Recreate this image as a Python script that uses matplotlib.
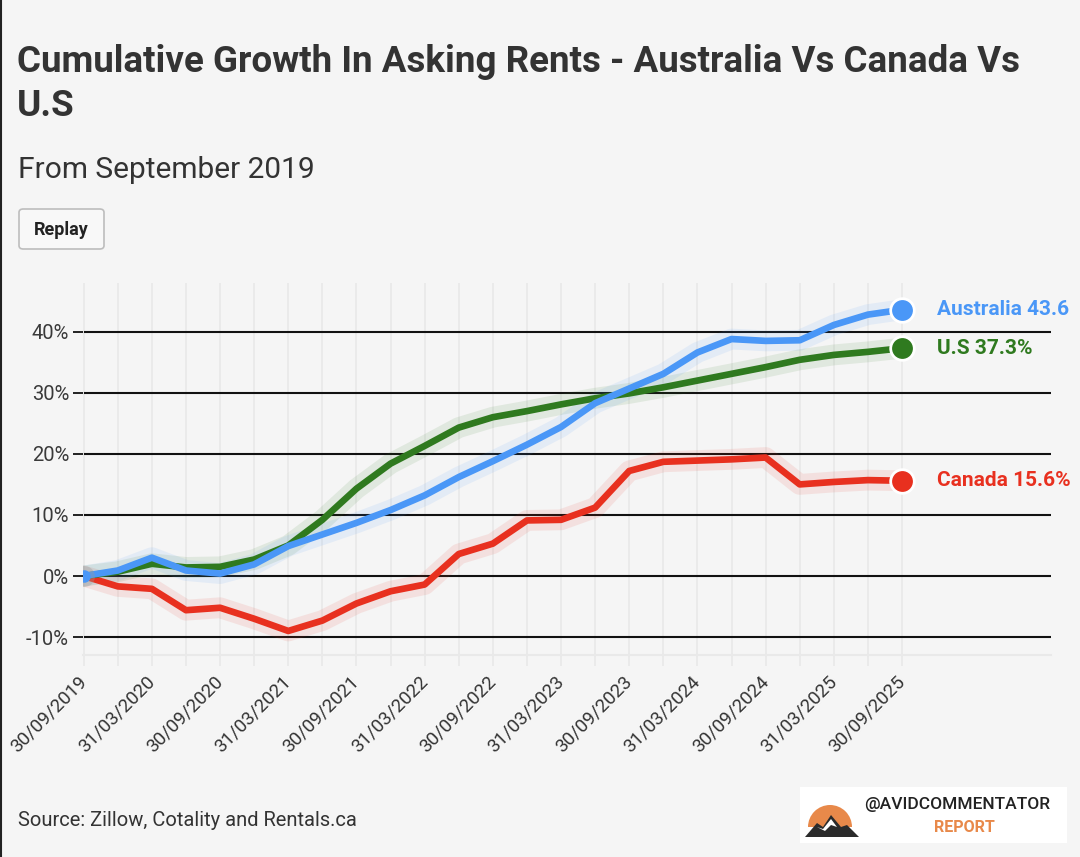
import matplotlib
matplotlib.use("Agg")
import matplotlib.pyplot as plt
from matplotlib.patches import FancyBboxPatch, Rectangle, Wedge, Polygon
from matplotlib.lines import Line2D
import numpy as np

# quarter-end dates, Sep 2019 .. Sep 2025
quarters = ["30/09/2019", "31/12/2019", "31/03/2020", "30/06/2020", "30/09/2020",
            "31/12/2020", "31/03/2021", "30/06/2021", "30/09/2021", "31/12/2021",
            "31/03/2022", "30/06/2022", "30/09/2022", "31/12/2022", "31/03/2023",
            "30/06/2023", "30/09/2023", "31/12/2023", "31/03/2024", "30/06/2024",
            "30/09/2024", "31/12/2024", "31/03/2025", "30/06/2025", "30/09/2025"]

australia = [0.0, 0.9, 3.0, 0.9, 0.4, 1.9, 4.9, 6.8, 8.7, 10.8, 13.2, 16.2, 18.8,
             21.5, 24.4, 28.3, 30.7, 33.1, 36.6, 38.8, 38.5, 38.6, 41.1, 42.8, 43.6]
us = [0.0, 0.7, 2.0, 1.4, 1.5, 2.7, 5.0, 9.2, 14.3, 18.4, 21.3, 24.3, 26.0,
      27.0, 28.1, 29.1, 29.9, 30.9, 32.0, 33.1, 34.2, 35.4, 36.2, 36.7, 37.3]
canada = [0.0, -1.7, -2.1, -5.6, -5.2, -7.0, -9.0, -7.3, -4.5, -2.5, -1.4, 3.6, 5.3,
          9.1, 9.2, 11.2, 17.2, 18.7, 18.9, 19.1, 19.4, 15.0, 15.4, 15.7, 15.6]

yticks = [-10, 0, 10, 20, 30, 40]

series = [
    ("Canada", canada, "#e8301f", "Canada 15.6%"),
    ("U.S", us, "#2f7a1f", "U.S 37.3%"),
    ("Australia", australia, "#4a97f7", "Australia 43.6"),
]

BG = "#f5f5f5"
TXT = "#333333"
FONT = "Roboto"

fig = plt.figure(figsize=(10.8, 8.57), dpi=100, facecolor=BG)
W, H = 1080, 857

def fx(px):
    return px / W

def fy(py):
    return 1 - py / H

# axes: x index 0 at px 83.7, index 24 at px 902 ; y 0% at py 576, 10% = 61.07 px
left_px, right_px = 83.0, 1051.0
top_px, bot_px = 283.0, 655.0
step = (902 - 83.7) / 24
x0 = -(83.7 - left_px) / step
x1 = (right_px - 83.7) / step
ppu = 6.107
y1 = (576 - top_px) / ppu
y0 = (576 - bot_px) / ppu

ax = fig.add_axes([fx(left_px), fy(bot_px), (right_px - left_px) / W, (bot_px - top_px) / H])
ax.set_facecolor(BG)
ax.set_xlim(x0, x1)
ax.set_ylim(y0, y1)

xs = np.arange(len(quarters))

# vertical light grid per quarter
for x in xs:
    ax.axvline(x, color="#e9e9e9", lw=1.3, zorder=0)

# horizontal black grid
for yv in yticks:
    ax.axhline(yv, xmin=(0.05 - x0) / (x1 - x0), color="#111111", lw=1.5, zorder=1)

for sp in ["top", "right", "left"]:
    ax.spines[sp].set_visible(False)
ax.spines["bottom"].set_color("#e9e9e9")
ax.spines["bottom"].set_linewidth(1.5)

ax.set_xticks(xs)
ax.set_xticklabels([q if i % 2 == 0 else "" for i, q in enumerate(quarters)],
                   rotation=45, ha="right", va="center", rotation_mode="anchor",
                   fontsize=13.5, color=TXT, family=FONT)
ax.tick_params(axis="x", length=8, width=1.3, color="#e9e9e9", pad=9)
ax.set_yticks(yticks)
ax.set_yticklabels([f"{v}%" for v in yticks], fontsize=14.5, color="#3a3a3a",
                   family=FONT, fontweight="normal")
ax.tick_params(axis="y", length=7, width=1.3, color="#111111", pad=3)

for name, vals, col, lab in series:
    ax.plot(xs, vals, color=col, lw=15, alpha=0.1, solid_capstyle="round",
            solid_joinstyle="round", zorder=3)
    ax.plot(xs, vals, color=col, lw=4.8, solid_capstyle="butt",
            solid_joinstyle="round", zorder=4)
    ax.plot(xs[-1], vals[-1], "o", ms=17, color=col, mec="white", mew=2, zorder=6,
            clip_on=False)
    ax.annotate(lab, (xs[-1], vals[-1]), xytext=(25, 0), textcoords="offset points",
                va="center", ha="left", fontsize=15, fontweight="bold",
                color=col, family=FONT, annotation_clip=False)

# start dot
ax.plot(0, 0, "o", ms=15, color="#9a9a9a", alpha=0.35, mew=0, zorder=5)
ax.plot(0, 0, "o", ms=9, color="#4a97f7", mew=0, zorder=6)

# titles
fig.text(fx(17), fy(62), "Cumulative Growth In Asking Rents - Australia Vs Canada Vs",
         fontsize=26.5, fontweight="bold", color=TXT, family=FONT, va="center")
fig.text(fx(17), fy(106), "U.S", fontsize=26.5, fontweight="bold", color=TXT,
         family=FONT, va="center")
fig.text(fx(18), fy(170), "From September 2019", fontsize=21.5, fontweight="normal",
         color=TXT, family=FONT, va="center")

# replay button
fig.patches.append(FancyBboxPatch((fx(19), fy(249)), fx(85), 40 / H,
                                  boxstyle="round,pad=0,rounding_size=0.004",
                                  transform=fig.transFigure, fc="#f8f8f8",
                                  ec="#bdbdbd", lw=1.2))
fig.text(fx(61), fy(230), "Replay", fontsize=13, fontweight="bold", color="#222222",
         family=FONT, ha="center", va="center")

# source
fig.text(fx(18), fy(820), "Source: Zillow, Cotality and Rentals.ca", fontsize=14.5,
         color=TXT, family=FONT, va="center")

# logo box
fig.patches.append(Rectangle((fx(800), fy(843)), fx(267), 56 / H,
                             transform=fig.transFigure, fc="white", ec="none"))
lax = fig.add_axes([fx(803), fy(841), fx(58), 52 / H], zorder=5)
lax.set_xlim(0, 58)
lax.set_ylim(0, 52)
lax.axis("off")
lax.patch.set_alpha(0)
lax.add_patch(Wedge((27, 14), 22, 0, 180, fc="#e8894a", ec="none"))
lax.add_patch(Polygon([(2, 4), (14, 18), (20, 14), (28, 26), (38, 14), (44, 16),
                       (56, 4)], closed=True, fc="#2b2b2b", ec="none"))
lax.add_patch(Polygon([(14, 14), (20, 12), (28, 22), (34, 14), (28, 16), (22, 10)],
                      closed=True, fc="white", ec="none"))
fig.text(fx(864), fy(805), "@AVIDCOMMENTATOR", fontsize=12.5, color="#222222",
         family=FONT, va="center", ha="left", fontweight="medium")
fig.text(fx(934), fy(828), "REPORT", fontsize=11.5, color="#e8894a", family=FONT,
         va="center", ha="left", fontweight="bold")

# left frame edge
fig.add_artist(Line2D([fx(1), fx(1)], [0, 1], color="#222222", lw=1.5,
                      transform=fig.transFigure))

fig.savefig("out.png", dpi=100, facecolor=BG)
